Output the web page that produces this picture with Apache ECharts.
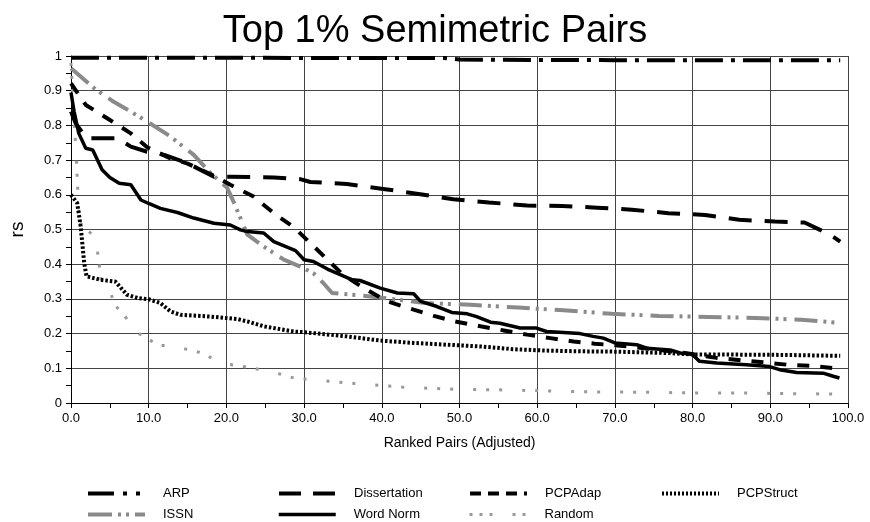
<!DOCTYPE html>
<html>
<head>
<meta charset="utf-8">
<script src="https://cdn.jsdelivr.net/npm/echarts@6/dist/echarts.min.js"></script>
<style>
html,body{margin:0;padding:0;background:#fff;}
#chart{width:870px;height:522px;}
</style>
</head>
<body>
<div id="chart"></div>
<script>
// ---- data (x = ranked pairs adjusted, y = rs) ----
const xTicks = [0, 10, 20, 30, 40, 50, 60, 70, 80, 90, 100];
const yTicks = [0, 0.1, 0.2, 0.3, 0.4, 0.5, 0.6, 0.7, 0.8, 0.9, 1];
const seriesNames = ['ARP', 'Dissertation', 'PCPAdap', 'PCPStruct', 'ISSN', 'Word Norm', 'Random'];

const arpData = [[0,0.995],[5,0.995],[20,0.995],[40,0.994],[48,0.994],[50,0.99],[55,0.989],[70,0.988],[99,0.988]];

const dissertationData = [[0,0.84],[0.6,0.806],[2.0,0.763],[6,0.763],[7.7,0.739],[9.8,0.724],[12,0.715],[15,0.691],[18.4,0.652],[20.5,0.652],[26.1,0.65],[29.5,0.645],[30.8,0.637],[35.5,0.631],[40.2,0.617],[44.5,0.603],[49.2,0.587],[53.8,0.578],[58.7,0.569],[63.2,0.568],[67.7,0.563],[72.2,0.557],[76.9,0.547],[81.6,0.542],[86,0.528],[90.6,0.523],[94.4,0.52],[96.4,0.499],[98.3,0.476],[99,0.465]];

const pcpAdapData = [[0,0.921],[1.9,0.859],[4.7,0.82],[7.7,0.777],[9.8,0.737],[12.8,0.705],[15,0.69],[18.4,0.655],[20.5,0.629],[23.5,0.595],[26.1,0.547],[28.7,0.506],[30.8,0.461],[33,0.413],[35,0.37],[37.7,0.331],[40.7,0.293],[44.1,0.269],[46.7,0.251],[49.4,0.235],[52.7,0.221],[55.7,0.209],[58.7,0.197],[61.7,0.187],[64.7,0.177],[67.4,0.171],[70.7,0.165],[75,0.155],[79,0.144],[83.1,0.13],[86.3,0.123],[89.3,0.117],[92.3,0.11],[95.3,0.107],[98.3,0.1],[99,0.098]];

const pcpStructData = [[0,0.6],[0.8,0.576],[1.25,0.508],[1.7,0.403],[2.0,0.365],[3.8,0.355],[5.7,0.35],[7.2,0.312],[8.7,0.302],[10,0.299],[11.5,0.288],[12.8,0.264],[14.1,0.254],[18,0.249],[21.4,0.242],[22.7,0.235],[24.8,0.221],[28.7,0.206],[30,0.204],[35.5,0.192],[39.8,0.18],[44.1,0.173],[48.4,0.168],[52.7,0.163],[56.9,0.155],[61.2,0.151],[65.1,0.149],[70,0.148],[77,0.144],[80,0.14],[90,0.139],[99,0.136]];

const issnData = [[0,0.965],[3,0.907],[5.5,0.868],[7,0.849],[9.8,0.811],[12.8,0.768],[15.8,0.715],[18,0.662],[20.1,0.62],[21,0.576],[22.7,0.485],[24.8,0.451],[27.4,0.413],[29.5,0.393],[31.2,0.374],[32.5,0.345],[33.6,0.317],[36.2,0.312],[39.4,0.305],[45.6,0.288],[51.4,0.283],[57.6,0.275],[63.4,0.267],[69.6,0.257],[75.7,0.251],[82,0.248],[88.1,0.245],[94,0.24],[98.3,0.232],[99,0.23]];

const wordNormData = [[0,0.895],[0.4,0.84],[1.0,0.777],[1.9,0.734],[2.8,0.729],[4.0,0.672],[5.0,0.65],[6.2,0.633],[7.7,0.629],[9.0,0.585],[10,0.575],[11.5,0.561],[13.7,0.549],[15.8,0.533],[18.4,0.518],[20.5,0.513],[21.8,0.499],[22.7,0.494],[24.8,0.49],[26.1,0.465],[28.9,0.439],[30,0.413],[31.2,0.408],[33.0,0.386],[34.2,0.374],[36.2,0.355],[37.2,0.353],[39.8,0.331],[42.0,0.317],[44.1,0.315],[45,0.293],[47.1,0.278],[49.0,0.261],[51,0.257],[52.2,0.249],[54,0.233],[55.2,0.23],[57.8,0.216],[59.9,0.216],[61.2,0.206],[63.4,0.203],[65.5,0.2],[67.2,0.192],[68.5,0.187],[70,0.173],[72.8,0.168],[74.1,0.158],[77.1,0.153],[78.4,0.144],[79.9,0.141],[80.9,0.12],[83.1,0.115],[86.9,0.11],[89.9,0.105],[91.2,0.096],[93.4,0.088],[96.8,0.086],[98.1,0.077],[98.9,0.072]];

const randomData = [[0,0.98],[0.4,0.82],[0.7,0.7],[0.9,0.6],[1.1,0.52],[2.5,0.49],[3.2,0.475],[3.6,0.403],[4.0,0.334],[5.1,0.321],[5.5,0.286],[7.1,0.245],[7.8,0.211],[9.0,0.197],[11.3,0.166],[12.8,0.166],[14.3,0.158],[17.1,0.143],[18.4,0.125],[19.9,0.113],[23.5,0.1],[25.7,0.091],[28.7,0.072],[31.2,0.067],[36.5,0.056],[42.6,0.046],[48.8,0.04],[54.8,0.038],[61.2,0.035],[67.5,0.032],[73.7,0.031],[80,0.029],[86,0.029],[92.2,0.027],[98,0.026],[99,0.025]];

// ---- styles ----
const FONT = '"Liberation Sans", Arial, sans-serif';
const GRAY = '#8a8a8a';
const styles = {
  'ARP':         {color:'#000', width:4, type:[28, 8, 4, 8]},
  'Dissertation':{color:'#000', width:4, type:[23, 13]},
  'PCPAdap':     {color:'#000', width:4, type:[12, 11]},
  'PCPStruct':   {color:'#000', width:4, type:[2.5, 2]},
  'ISSN':        {color:GRAY,  width:4, type:[23, 6, 3, 5, 3, 8]},
  'Word Norm':   {color:'#000', width:3.5, type:'solid'},
  'Random':      {color:'#999', width:3, type:[3, 10, 3, 10, 3, 20]}
};
const legendStyles = {
  'ARP':         {type:[26, 9, 4, 9, 4, 9]},
  'Dissertation':{type:[22, 12]},
  'PCPAdap':     {type:[11, 7]},
  'PCPStruct':   {type:[2, 2]},
  'ISSN':        {type:[24, 6, 3, 5, 3, 6]},
  'Word Norm':   {type:'solid'},
  'Random':      {type:[3, 7, 3, 7, 3, 20]}
};
const dataMap = {
  'ARP': arpData, 'Dissertation': dissertationData, 'PCPAdap': pcpAdapData,
  'PCPStruct': pcpStructData, 'ISSN': issnData, 'Word Norm': wordNormData, 'Random': randomData
};
const drawOrder = ['Random', 'PCPStruct', 'ISSN', 'Dissertation', 'PCPAdap', 'Word Norm', 'ARP'];
// legend layout: column lefts and row tops
const legendCols = [86, 277, 468, 660];
const legendRows = [487, 508];

const series = drawOrder.map(name => ({
  name: name,
  type: 'line',
  data: dataMap[name],
  symbol: 'none',
  showSymbol: false,
  animation: false,
  clip: true,
  lineStyle: {color: styles[name].color, width: styles[name].width, type: styles[name].type, cap: 'butt'},
  itemStyle: {color: styles[name].color}
}));

const legends = seriesNames.map((n, i) => {
  const row = i < 4 ? 0 : 1;
  const col = i < 4 ? i : i - 4;
  return {
    top: legendRows[row], left: legendCols[col], orient: 'horizontal', padding: 0,
    itemWidth: 57, itemHeight: 14, itemGap: 0,
    selectedMode: false,
    data: [{
      name: n,
      itemStyle: {opacity: 0},
      lineStyle: {width: styles[n].width, color: styles[n].color, type: legendStyles[n].type}
    }],
    textStyle: {fontFamily: FONT, fontSize: 13, color: '#000', padding: [0, 0, 0, 13]}
  };
});

const chart = echarts.init(document.getElementById('chart'), null, {renderer: 'canvas'});
chart.setOption({
  backgroundColor: '#fff',
  animation: false,
  title: {
    text: 'Top 1% Semimetric Pairs', left: 'center', top: 8,
    textStyle: {fontFamily: FONT, fontSize: 38, fontWeight: 'normal', color: '#000'}
  },
  legend: legends,
  grid: {left: 70, right: 22, top: 56, bottom: 119, containLabel: false},
  xAxis: {
    type: 'value', min: xTicks[0], max: xTicks[xTicks.length - 1], interval: 10,
    name: 'Ranked Pairs (Adjusted)', nameLocation: 'middle', nameGap: 33,
    nameTextStyle: {fontFamily: FONT, fontSize: 14, color: '#000'},
    axisLine: {show: true, lineStyle: {color: '#000', width: 1}},
    axisTick: {show: true, length: 5, lineStyle: {color: '#000'}},
    minorTick: {show: true, splitNumber: 2, length: 5, lineStyle: {color: '#000'}},
    axisLabel: {fontFamily: FONT, fontSize: 13, color: '#000', margin: 9, formatter: v => v.toFixed(1)},
    splitLine: {show: true, lineStyle: {color: '#444', width: 1}}
  },
  yAxis: {
    type: 'value', min: yTicks[0], max: yTicks[yTicks.length - 1], interval: 0.1,
    name: 'rs', nameLocation: 'middle', nameGap: 44,
    nameTextStyle: {fontFamily: FONT, fontSize: 19, color: '#000'},
    axisLine: {show: true, lineStyle: {color: '#000', width: 1}},
    axisTick: {show: true, length: 5, lineStyle: {color: '#000'}},
    minorTick: {show: true, splitNumber: 2, length: 5, lineStyle: {color: '#000'}},
    axisLabel: {fontFamily: FONT, fontSize: 13, color: '#000', margin: 9},
    splitLine: {show: true, lineStyle: {color: '#444', width: 1}}
  },
  series: series
});
</script>
</body>
</html>
